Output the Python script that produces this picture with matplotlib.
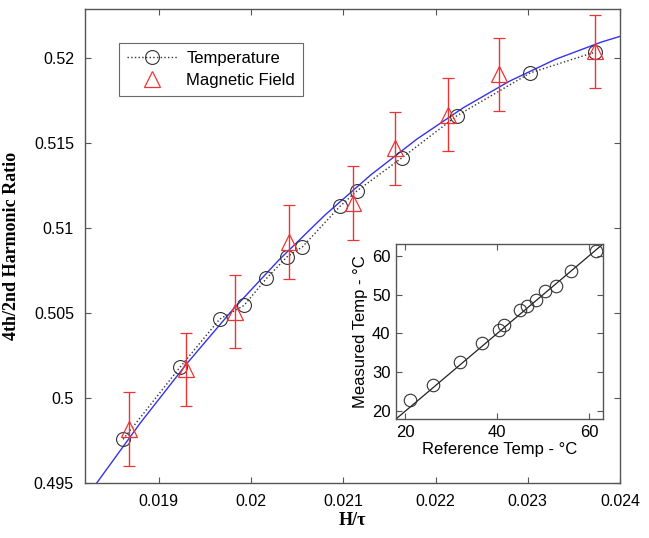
import matplotlib
matplotlib.use("Agg")
import matplotlib.pyplot as plt
from matplotlib.lines import Line2D

plt.rcParams['font.family'] = ['Liberation Sans', 'DejaVu Sans']

# Main plot data
temp_x = [0.018613, 0.019228, 0.019661, 0.019924, 0.020167, 0.020390, 0.020557,
          0.020969, 0.021150, 0.021636, 0.022230, 0.023027, 0.023732]
temp_y = [0.49757, 0.50180, 0.50465, 0.50545, 0.50704, 0.50831, 0.50890,
          0.51131, 0.51220, 0.51414, 0.51661, 0.51914, 0.52037]

mag_x = [0.018678, 0.019300, 0.019831, 0.020408, 0.021101, 0.021563,
         0.022131, 0.022691, 0.023732]
mag_y = [0.49818, 0.50169, 0.50508, 0.50919, 0.51149, 0.51469,
         0.51669, 0.51905, 0.52040]
mag_err = [0.00216] * 9

fit_x = [0.0183, 0.0188, 0.0193, 0.0198, 0.0203, 0.0208, 0.0213,
         0.0218, 0.0223, 0.0228, 0.0233, 0.0238, 0.0240]
fit_y = [0.494799, 0.498536, 0.502001, 0.505194, 0.508115, 0.510765, 0.513143,
         0.515250, 0.517084, 0.518647, 0.519937, 0.520957, 0.521288]

x_ticks = [0.019, 0.020, 0.021, 0.022, 0.023, 0.024]
x_ticklabels = ['0.019', '0.02', '0.021', '0.022', '0.023', '0.024']
y_ticks = [0.495, 0.500, 0.505, 0.510, 0.515, 0.520]
y_ticklabels = ['0.495', '0.5', '0.505', '0.51', '0.515', '0.52']

# Inset data
ref_temp = [21.0, 26.0, 32.0, 36.7, 40.3, 41.5, 45.0, 46.5, 48.5, 50.4, 52.8, 56.0, 61.5]
meas_temp = [22.8, 26.7, 32.6, 37.5, 41.0, 42.3, 46.0, 47.0, 48.7, 50.8, 52.1, 56.0, 61.3]
ident_line = [18, 63]

fig = plt.figure(figsize=(6.49, 5.38), dpi=100)
ax = fig.add_axes([85/649, 1-483/538, (620-85)/649, (483-9)/538])

ax.plot(fit_x, fit_y, color='#3333ee', lw=1.0, zorder=2)
ax.plot(temp_x, temp_y, linestyle=':', color='#333333', lw=1.0, marker='o',
        markersize=10, markerfacecolor='none', markeredgecolor='#333333',
        markeredgewidth=0.8, zorder=3)
ax.errorbar(mag_x, mag_y, yerr=mag_err, fmt='^', color='#ee3333', ecolor='#ee3333',
            markersize=11, markerfacecolor='none', markeredgewidth=0.9,
            elinewidth=1.0, capsize=4, capthick=1.0, zorder=4)

ax.set_xlim(0.0182, 0.024)
ax.set_ylim(0.495, 0.5229)
ax.set_xticks(x_ticks)
ax.set_xticklabels(x_ticklabels)
ax.set_yticks(y_ticks)
ax.set_yticklabels(y_ticklabels)
ax.tick_params(direction='in', top=True, right=True, labelsize=11.5, length=4,
               color='#555555', pad=8)
for s in ax.spines.values():
    s.set_color('#555555')
    s.set_linewidth(1.0)

ax.set_xlabel('H/τ', fontfamily='Liberation Serif', fontweight='bold', fontsize=13, labelpad=2)
ax.set_ylabel('4th/2nd Harmonic Ratio', fontfamily='Liberation Serif', fontweight='bold',
              fontsize=13, labelpad=10)

h_temp = Line2D([], [], linestyle=':', color='#333333', lw=1.0, marker='o',
                markersize=10, markerfacecolor='none', markeredgecolor='#333333',
                markeredgewidth=0.8)
h_mag = Line2D([], [], linestyle='none', marker='^', markersize=11,
               markerfacecolor='none', markeredgecolor='#ee3333', markeredgewidth=0.9)
leg = ax.legend([h_temp, h_mag], ['Temperature', 'Magnetic Field'], loc='upper left',
                bbox_to_anchor=((119-85)/535, (483-43)/474), borderaxespad=0,
                fontsize=12, frameon=True, fancybox=False, edgecolor='#444444',
                borderpad=0.45, handlelength=3.0, handletextpad=0.6, labelspacing=0.45)
leg.get_frame().set_linewidth(0.8)

# Inset
ins = fig.add_axes([396/649, 1-419/538, (603-396)/649, (419-244)/538])
ins.plot(ident_line, ident_line, color='#222222', lw=0.9)
ins.plot(ref_temp, meas_temp, linestyle='none', marker='o', markersize=9,
         markerfacecolor='none', markeredgecolor='#333333', markeredgewidth=0.8)
ins.set_xlim(18, 63)
ins.set_ylim(18, 63)
ins.set_xticks([20, 40, 60])
ins.set_yticks([20, 30, 40, 50, 60])
ins.tick_params(direction='in', top=True, right=True, labelsize=12, length=4,
                color='#555555', pad=4)
for s in ins.spines.values():
    s.set_color('#555555')
    s.set_linewidth(1.0)
ins.set_xlabel('Reference Temp - °C', fontsize=12, labelpad=2)
ins.set_ylabel('Measured Temp - °C', fontsize=12, labelpad=3)

fig.savefig('out.png', dpi=100)
